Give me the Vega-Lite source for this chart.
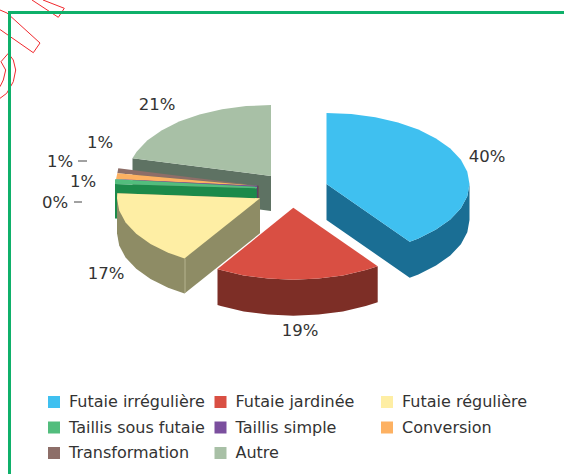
{"$schema":"https://vega.github.io/schema/vega-lite/v6.json","width":564,"height":474,"autosize":"none","padding":0,"background":"white",
"datasets":{
"sides":[
{"slice":"Autre","i":1,"x":132.5,"y":158.3},{"slice":"Autre","i":2,"x":271,"y":176},{"slice":"Autre","i":3,"x":271,"y":211},{"slice":"Autre","i":4,"x":132.5,"y":193.3},
{"slice":"Transformation","i":1,"x":257,"y":185.5},{"slice":"Transformation","i":2,"x":258.8,"y":185.7},{"slice":"Transformation","i":3,"x":258.8,"y":221},{"slice":"Transformation","i":4,"x":257,"y":221},
{"slice":"Taillis simple","i":1,"x":256.5,"y":186},{"slice":"Taillis simple","i":2,"x":257.5,"y":186},{"slice":"Taillis simple","i":3,"x":257.5,"y":198},{"slice":"Taillis simple","i":4,"x":256.5,"y":198},
{"slice":"Taillis sous futaie","i":1,"x":115,"y":184},{"slice":"Taillis sous futaie","i":2,"x":256.8,"y":188.3},{"slice":"Taillis sous futaie","i":3,"x":256.8,"y":223},{"slice":"Taillis sous futaie","i":4,"x":115,"y":218.5},
{"slice":"Futaie régulière","i":1,"x":260,"y":198.3},{"slice":"Futaie régulière","i":2,"x":260,"y":233.3},{"slice":"Futaie régulière","i":3,"x":184.5,"y":293.5},{"slice":"Futaie régulière","i":4,"x":168.1,"y":287.7},{"slice":"Futaie régulière","i":5,"x":150.5,"y":278.9},{"slice":"Futaie régulière","i":6,"x":136.2,"y":268.8},{"slice":"Futaie régulière","i":7,"x":125.6,"y":257.6},{"slice":"Futaie régulière","i":8,"x":119.2,"y":245.6},{"slice":"Futaie régulière","i":9,"x":117,"y":233.3},{"slice":"Futaie régulière","i":10,"x":117,"y":193.3},
{"slice":"Futaie jardinée","i":1,"x":217.5,"y":269.1},{"slice":"Futaie jardinée","i":2,"x":220.8,"y":270.1},{"slice":"Futaie jardinée","i":3,"x":243.7,"y":275.4},{"slice":"Futaie jardinée","i":4,"x":268.1,"y":278.6},{"slice":"Futaie jardinée","i":5,"x":293.3,"y":279.7},{"slice":"Futaie jardinée","i":6,"x":318.5,"y":278.6},{"slice":"Futaie jardinée","i":7,"x":342.9,"y":275.4},{"slice":"Futaie jardinée","i":8,"x":365.8,"y":270.1},{"slice":"Futaie jardinée","i":9,"x":377.7,"y":266.2},{"slice":"Futaie jardinée","i":10,"x":377.7,"y":302.2},{"slice":"Futaie jardinée","i":11,"x":365.8,"y":306.1},{"slice":"Futaie jardinée","i":12,"x":342.9,"y":311.4},{"slice":"Futaie jardinée","i":13,"x":318.5,"y":314.6},{"slice":"Futaie jardinée","i":14,"x":293.3,"y":315.7},{"slice":"Futaie jardinée","i":15,"x":268.1,"y":314.6},{"slice":"Futaie jardinée","i":16,"x":243.7,"y":311.4},{"slice":"Futaie jardinée","i":17,"x":220.8,"y":306.1},{"slice":"Futaie jardinée","i":18,"x":217.5,"y":305.1},
{"slice":"Futaie irrégulière","i":1,"x":326.5,"y":184},{"slice":"Futaie irrégulière","i":2,"x":409.7,"y":241.7},{"slice":"Futaie irrégulière","i":3,"x":418.4,"y":238.4},{"slice":"Futaie irrégulière","i":4,"x":436,"y":229.6},{"slice":"Futaie irrégulière","i":5,"x":450.3,"y":219.5},{"slice":"Futaie irrégulière","i":6,"x":460.9,"y":208.3},{"slice":"Futaie irrégulière","i":7,"x":467.3,"y":196.3},{"slice":"Futaie irrégulière","i":8,"x":469.5,"y":184},{"slice":"Futaie irrégulière","i":9,"x":469.5,"y":220},{"slice":"Futaie irrégulière","i":10,"x":467.3,"y":232.3},{"slice":"Futaie irrégulière","i":11,"x":460.9,"y":244.3},{"slice":"Futaie irrégulière","i":12,"x":450.3,"y":255.5},{"slice":"Futaie irrégulière","i":13,"x":436,"y":265.6},{"slice":"Futaie irrégulière","i":14,"x":418.4,"y":274.4},{"slice":"Futaie irrégulière","i":15,"x":409.7,"y":277.7},{"slice":"Futaie irrégulière","i":16,"x":326.5,"y":220}
],
"tops":[
{"slice":"Autre","i":1,"x":271,"y":176},{"slice":"Autre","i":2,"x":132.5,"y":158.3},{"slice":"Autre","i":3,"x":136.6,"y":151.7},{"slice":"Autre","i":4,"x":147.2,"y":140.5},{"slice":"Autre","i":5,"x":161.5,"y":130.4},{"slice":"Autre","i":6,"x":179.1,"y":121.6},{"slice":"Autre","i":7,"x":199.5,"y":114.5},{"slice":"Autre","i":8,"x":222.1,"y":109.3},{"slice":"Autre","i":9,"x":246.2,"y":106.1},{"slice":"Autre","i":10,"x":271,"y":105},
{"slice":"Transformation","i":1,"x":118.3,"y":168.3},{"slice":"Transformation","i":2,"x":117.3,"y":173.3},{"slice":"Transformation","i":3,"x":258.5,"y":185.7},
{"slice":"Conversion","i":1,"x":117.3,"y":173.3},{"slice":"Conversion","i":2,"x":116,"y":179.3},{"slice":"Conversion","i":3,"x":257,"y":185.8},
{"slice":"Taillis simple","i":1,"x":116,"y":178.9},{"slice":"Taillis simple","i":2,"x":116,"y":179.5},{"slice":"Taillis simple","i":3,"x":257.3,"y":186.8},{"slice":"Taillis simple","i":4,"x":257.3,"y":185.7},
{"slice":"Taillis sous futaie","i":1,"x":115,"y":179.3},{"slice":"Taillis sous futaie","i":2,"x":115,"y":184},{"slice":"Taillis sous futaie","i":3,"x":257,"y":188.3},{"slice":"Taillis sous futaie","i":4,"x":257,"y":186.8},
{"slice":"Futaie régulière","i":1,"x":260,"y":198.3},{"slice":"Futaie régulière","i":2,"x":184.5,"y":258.4},{"slice":"Futaie régulière","i":3,"x":168.1,"y":252.7},{"slice":"Futaie régulière","i":4,"x":150.5,"y":243.9},{"slice":"Futaie régulière","i":5,"x":136.2,"y":233.8},{"slice":"Futaie régulière","i":6,"x":125.6,"y":222.6},{"slice":"Futaie régulière","i":7,"x":119.2,"y":210.6},{"slice":"Futaie régulière","i":8,"x":117,"y":198.3},{"slice":"Futaie régulière","i":9,"x":117.3,"y":193.3},
{"slice":"Futaie jardinée","i":1,"x":293.3,"y":207.7},{"slice":"Futaie jardinée","i":2,"x":377.7,"y":266.2},{"slice":"Futaie jardinée","i":3,"x":365.8,"y":270.1},{"slice":"Futaie jardinée","i":4,"x":342.9,"y":275.4},{"slice":"Futaie jardinée","i":5,"x":318.5,"y":278.6},{"slice":"Futaie jardinée","i":6,"x":293.3,"y":279.7},{"slice":"Futaie jardinée","i":7,"x":268.1,"y":278.6},{"slice":"Futaie jardinée","i":8,"x":243.7,"y":275.4},{"slice":"Futaie jardinée","i":9,"x":220.8,"y":270.1},{"slice":"Futaie jardinée","i":10,"x":217.5,"y":269.1},
{"slice":"Futaie irrégulière","i":1,"x":326.5,"y":184},{"slice":"Futaie irrégulière","i":2,"x":326.5,"y":113},{"slice":"Futaie irrégulière","i":3,"x":351.3,"y":114.1},{"slice":"Futaie irrégulière","i":4,"x":375.4,"y":117.3},{"slice":"Futaie irrégulière","i":5,"x":398,"y":122.5},{"slice":"Futaie irrégulière","i":6,"x":418.4,"y":129.6},{"slice":"Futaie irrégulière","i":7,"x":436,"y":138.4},{"slice":"Futaie irrégulière","i":8,"x":450.3,"y":148.5},{"slice":"Futaie irrégulière","i":9,"x":460.9,"y":159.7},{"slice":"Futaie irrégulière","i":10,"x":467.3,"y":171.7},{"slice":"Futaie irrégulière","i":11,"x":469.5,"y":184},{"slice":"Futaie irrégulière","i":12,"x":467.3,"y":196.3},{"slice":"Futaie irrégulière","i":13,"x":460.9,"y":208.3},{"slice":"Futaie irrégulière","i":14,"x":450.3,"y":219.5},{"slice":"Futaie irrégulière","i":15,"x":436,"y":229.6},{"slice":"Futaie irrégulière","i":16,"x":418.4,"y":238.4},{"slice":"Futaie irrégulière","i":17,"x":409.7,"y":241.7}
],
"marks":[
{"s":"a","i":1,"x":43,"y":0},{"s":"a","i":2,"x":64.3,"y":8.3},{"s":"a","i":3,"x":58.3,"y":17.3},{"s":"a","i":4,"x":32,"y":0},
{"s":"b","i":1,"x":0,"y":10},{"s":"b","i":2,"x":7,"y":13},{"s":"b","i":3,"x":40,"y":43},{"s":"b","i":4,"x":33.3,"y":52.7},{"s":"b","i":5,"x":0,"y":29.5},
{"s":"c","i":1,"x":0,"y":98.3},{"s":"c","i":2,"x":6.7,"y":93.3},{"s":"c","i":3,"x":13.3,"y":81.7},{"s":"c","i":4,"x":15.7,"y":70},{"s":"c","i":5,"x":13.3,"y":60},{"s":"c","i":6,"x":8.3,"y":53.3},{"s":"c","i":7,"x":1,"y":61.7},{"s":"c","i":8,"x":5.7,"y":70},{"s":"c","i":9,"x":3.3,"y":80},{"s":"c","i":10,"x":0,"y":86.7}
],
"frame":[{"i":1,"x":9.5,"y":474},{"i":2,"x":9.5,"y":12.5},{"i":3,"x":564,"y":12.5}],
"edges":[{"s":"a","x":185,"y":258.6},{"s":"a","x":185,"y":293}],
"leaders":[{"s":"a","x":78,"y":161},{"s":"a","x":87,"y":161},{"s":"b","x":74,"y":202},{"s":"b","x":82,"y":202}],
"labels":[{"t":"40%","x":487,"y":157},{"t":"19%","x":300,"y":331},{"t":"17%","x":106,"y":274},{"t":"21%","x":157,"y":105},{"t":"1%","x":100,"y":143},{"t":"1%","x":60,"y":162},{"t":"1%","x":83,"y":182},{"t":"0%","x":55,"y":203}]
},
"layer":[
{"data":{"name":"marks"},"mark":{"type":"line","stroke":"#f0282d","strokeWidth":1,"clip":true},"encoding":{"x":{"field":"x","type":"quantitative","scale":{"domain":[0,564],"nice":false,"zero":false},"axis":null},"y":{"field":"y","type":"quantitative","scale":{"domain":[474,0],"nice":false,"zero":false},"axis":null},"detail":{"field":"s"},"order":{"field":"i"}}},
{"data":{"name":"frame"},"mark":{"type":"line","stroke":"#0fb06a","strokeWidth":3,"strokeCap":"square"},"encoding":{"x":{"field":"x","type":"quantitative"},"y":{"field":"y","type":"quantitative"},"order":{"field":"i"}}},
{"data":{"name":"sides"},"mark":{"type":"line","filled":true,"strokeWidth":0},"encoding":{"x":{"field":"x","type":"quantitative"},"y":{"field":"y","type":"quantitative"},"order":{"field":"i"},"fill":{"field":"slice","type":"nominal","legend":null,"scale":{"domain":["Futaie irrégulière","Futaie jardinée","Futaie régulière","Taillis sous futaie","Taillis simple","Conversion","Transformation","Autre"],"range":["#1a6e94","#7d2e26","#8e8c65","#1c8a4a","#4a3080","#a87a40","#6a5048","#5e7263"]}}}},
{"data":{"name":"edges"},"mark":{"type":"line","stroke":"#b5b38f","strokeWidth":1},"encoding":{"x":{"field":"x","type":"quantitative"},"y":{"field":"y","type":"quantitative"},"detail":{"field":"s"}}},
{"data":{"name":"tops"},"mark":{"type":"line","filled":true,"strokeWidth":0},"encoding":{"x":{"field":"x","type":"quantitative"},"y":{"field":"y","type":"quantitative"},"order":{"field":"i"},"fill":{"field":"slice","type":"nominal","scale":{"domain":["Futaie irrégulière","Futaie jardinée","Futaie régulière","Taillis sous futaie","Taillis simple","Conversion","Transformation","Autre"],"range":["#3fc0f0","#d94f43","#feeea4","#52bd7d","#7b4f9e","#fdb162","#8d6e68","#a8c0a6"]},"legend":{"title":null,"orient":"none","legendX":46,"legendY":394,"direction":"horizontal","columns":3,"gridAlign":"all","symbolType":"square","symbolSize":144,"symbolStrokeWidth":0,"labelOffset":7,"labelFont":"DejaVu Sans","labelFontSize":16,"labelColor":"#333333","columnPadding":7.5,"rowPadding":9.5,"labelLimit":200}}}},
{"data":{"name":"leaders"},"mark":{"type":"line","stroke":"#444444","strokeWidth":1},"encoding":{"x":{"field":"x","type":"quantitative"},"y":{"field":"y","type":"quantitative"},"detail":{"field":"s"}}},
{"data":{"name":"labels"},"mark":{"type":"text","font":"DejaVu Sans","fontSize":16.5,"color":"#333333","align":"center","baseline":"middle"},"encoding":{"x":{"field":"x","type":"quantitative"},"y":{"field":"y","type":"quantitative"},"text":{"field":"t"}}}
],
"resolve":{"scale":{"fill":"independent"}},
"config":{"view":{"stroke":null}}}
